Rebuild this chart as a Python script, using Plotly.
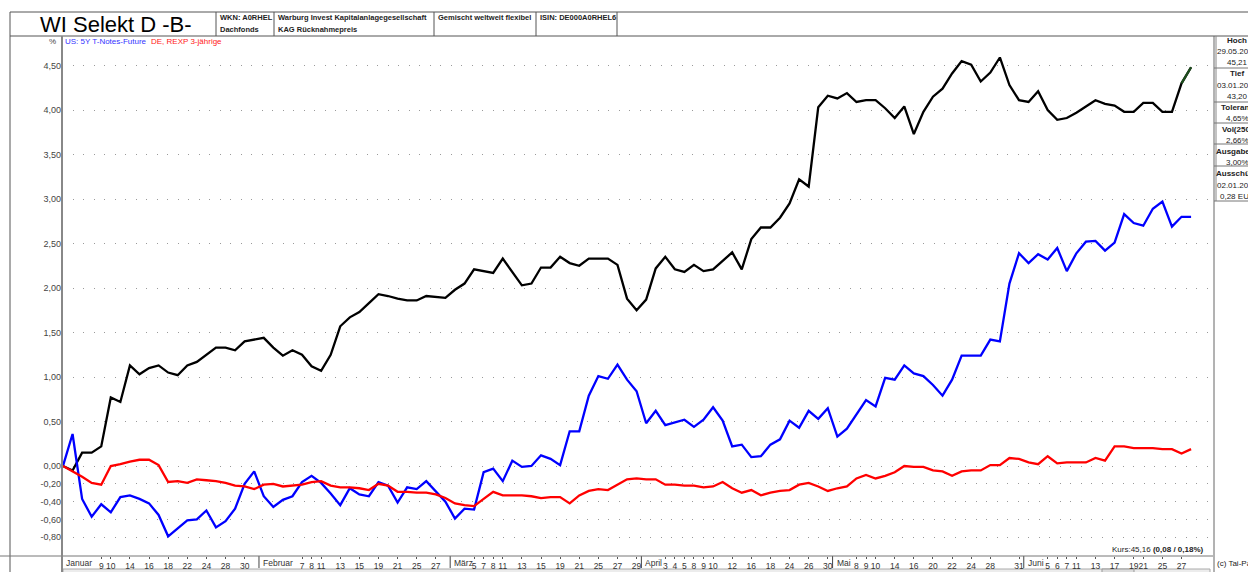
import plotly.graph_objects as go
import pandas as pd

# ------------------------------------------------------------------ data
excluded_days = ["2019-01-04", "2019-03-06", "2019-04-19", "2019-04-22", "2019-05-01",
                 "2019-05-03", "2019-05-06", "2019-06-10", "2019-06-20"]
trade_days = [d for d in pd.bdate_range("2019-01-02", "2019-06-28").strftime("%Y-%m-%d")
              if d not in excluded_days]

# WI Selekt D -B- (performance in %)
fund = [0.00, -0.05, 0.15, 0.15, 0.22, 0.77, 0.72, 1.13, 1.03, 1.10,
        1.13, 1.05, 1.02, 1.13, 1.17, 1.25, 1.33, 1.33, 1.30, 1.40,
        1.42, 1.44, 1.33, 1.24, 1.30, 1.25, 1.12, 1.07, 1.25, 1.57,
        1.67, 1.73, 1.83, 1.93, 1.91, 1.88, 1.86, 1.86, 1.91, 1.90,
        1.89, 1.98, 2.05, 2.21, 2.19, 2.17, 2.33, 2.18, 2.03, 2.05,
        2.23, 2.23, 2.35, 2.28, 2.25, 2.33, 2.33, 2.33, 2.26, 1.88,
        1.75, 1.87, 2.22, 2.35, 2.21, 2.18, 2.26, 2.19, 2.21, 2.30,
        2.40, 2.21, 2.55, 2.68, 2.68, 2.79, 2.95, 3.22, 3.14, 4.03,
        4.16, 4.13, 4.19, 4.09, 4.11, 4.11, 4.02, 3.91, 4.04, 3.73,
        3.98, 4.15, 4.24, 4.41, 4.55, 4.51, 4.32, 4.42, 4.59, 4.28,
        4.11, 4.09, 4.21, 4.00, 3.89, 3.91, 3.97, 4.04, 4.11, 4.07,
        4.05, 3.98, 3.98, 4.08, 4.08, 3.98, 3.98, 4.30, 4.48]

# US: 5Y T-Notes-Future
us5y = [0.00, 0.36, -0.37, -0.57, -0.43, -0.52, -0.35, -0.33, -0.37, -0.42,
        -0.55, -0.79, -0.70, -0.61, -0.60, -0.50, -0.69, -0.62, -0.48, -0.20,
        -0.06, -0.34, -0.46, -0.38, -0.34, -0.18, -0.11, -0.19, -0.31, -0.44,
        -0.25, -0.32, -0.34, -0.18, -0.22, -0.41, -0.24, -0.26, -0.17, -0.29,
        -0.40, -0.59, -0.48, -0.49, -0.07, -0.03, -0.17, 0.06, -0.01, 0.00,
        0.12, 0.08, 0.01, 0.39, 0.39, 0.79, 1.01, 0.98, 1.14, 0.97,
        0.84, 0.48, 0.62, 0.46, 0.49, 0.52, 0.44, 0.52, 0.66, 0.51,
        0.22, 0.24, 0.10, 0.11, 0.24, 0.30, 0.51, 0.43, 0.62, 0.53,
        0.65, 0.33, 0.42, 0.58, 0.74, 0.67, 0.99, 0.97, 1.13, 1.04,
        1.01, 0.91, 0.79, 0.97, 1.24, 1.24, 1.24, 1.42, 1.40, 2.05,
        2.39, 2.28, 2.38, 2.32, 2.45, 2.19, 2.39, 2.52, 2.53, 2.42,
        2.51, 2.83, 2.73, 2.70, 2.89, 2.97, 2.69, 2.80, 2.80]

# DE, REXP 3-jährige
rexp = [0.00, -0.06, -0.12, -0.19, -0.21, 0.00, 0.02, 0.05, 0.07, 0.07,
        0.01, -0.18, -0.17, -0.19, -0.15, -0.16, -0.17, -0.19, -0.22, -0.23,
        -0.26, -0.21, -0.20, -0.23, -0.22, -0.21, -0.18, -0.17, -0.22, -0.24,
        -0.24, -0.25, -0.27, -0.20, -0.22, -0.29, -0.29, -0.30, -0.30, -0.32,
        -0.36, -0.42, -0.44, -0.45, -0.37, -0.29, -0.33, -0.33, -0.33, -0.34,
        -0.36, -0.35, -0.35, -0.42, -0.33, -0.28, -0.26, -0.27, -0.21, -0.15,
        -0.14, -0.15, -0.15, -0.21, -0.21, -0.22, -0.22, -0.24, -0.23, -0.18,
        -0.25, -0.30, -0.27, -0.33, -0.30, -0.28, -0.27, -0.21, -0.19, -0.23,
        -0.28, -0.25, -0.23, -0.14, -0.10, -0.14, -0.11, -0.07, 0.00, -0.01,
        -0.01, -0.05, -0.06, -0.11, -0.06, -0.05, -0.05, 0.01, 0.01, 0.09,
        0.08, 0.04, 0.02, 0.11, 0.03, 0.04, 0.04, 0.04, 0.09, 0.06,
        0.22, 0.22, 0.20, 0.20, 0.20, 0.19, 0.19, 0.14, 0.19]

month_names = ["Januar", "Februar", "März", "April", "Mai", "Juni"]
label_days = [[9, 10, 14, 16, 18, 22, 24, 28, 30],
              [7, 8, 11, 13, 15, 19, 21, 25, 27],
              [5, 7, 8, 11, 13, 15, 19, 21, 25, 27, 29],
              [3, 4, 5, 8, 9, 10, 12, 16, 18, 24, 26, 30],
              [8, 9, 10, 14, 16, 20, 22, 24, 28, 31],
              [5, 6, 7, 11, 13, 17, 19, 21, 25, 27]]

y_tick_values = [-0.8, -0.6, -0.4, -0.2, 0.0, 0.5, 1.0, 1.5, 2.0, 2.5, 3.0, 3.5, 4.0, 4.5]

header_cells = [["WKN: A0RHEL", "Dachfonds"],
                ["Warburg Invest Kapitalanlagegesellschaft", "KAG Rücknahmepreis"],
                ["Gemischt weltweit flexibel", ""],
                ["ISIN: DE000A0RHEL6", ""]]

info_boxes = [["Hoch", "29.05.2019", "45,21"],
              ["Tief", "03.01.2019", "43,20"],
              ["Toleranz", "4,65%"],
              ["Vol(250)", "2,66%"],
              ["Ausgabeaufschlag", "3,00%"],
              ["Ausschüttung", "02.01.2019", "0,28 EUR"]]

# ------------------------------------------------------------------ layout helpers
W, H = 1248, 572
PL, PR, PT, PB = 62, 1213, 36, 556
FONT = "Liberation Sans, Arial, sans-serif"


def fx(px):
    return (px - PL) / (PR - PL)


def fy(py):
    return (PB - py) / (PB - PT)


shapes = []
annotations = []


def hline(x0, x1, y, color="#666", width=1):
    shapes.append(dict(type="line", xref="paper", yref="paper", x0=fx(x0), x1=fx(x1),
                       y0=fy(y), y1=fy(y), line=dict(color=color, width=width), layer="above"))


def vline(x, y0, y1, color="#666", width=1):
    shapes.append(dict(type="line", xref="paper", yref="paper", x0=fx(x), x1=fx(x),
                       y0=fy(y0), y1=fy(y1), line=dict(color=color, width=width), layer="above"))


def text(t, x, y, size=9, color="#222", xanchor="left", bold=False):
    if bold:
        t = "<b>" + t + "</b>"
    annotations.append(dict(text=t, xref="paper", yref="paper", x=fx(x), y=fy(y),
                            xanchor=xanchor, yanchor="middle", showarrow=False,
                            font=dict(family=FONT, size=size, color=color), borderpad=0))


x_idx = list(range(len(trade_days)))

fig = go.Figure()
fig.add_trace(go.Scatter(x=x_idx, y=fund, mode="lines", line=dict(color="#000000", width=2.3),
                         name="WI Selekt D -B-", text=trade_days, hoverinfo="text+y"))
fig.add_trace(go.Scatter(x=x_idx[-2:], y=fund[-2:], mode="lines",
                         line=dict(color="#1d4d1d", width=2.3), showlegend=False, hoverinfo="skip"))
fig.add_trace(go.Scatter(x=x_idx, y=us5y, mode="lines", line=dict(color="#0000ff", width=2.3),
                         name="US: 5Y T-Notes-Future", text=trade_days, hoverinfo="text+y"))
fig.add_trace(go.Scatter(x=x_idx, y=rexp, mode="lines", line=dict(color="#ff0000", width=2.3),
                         name="DE, REXP 3-jährige", text=trade_days, hoverinfo="text+y"))

# x tick labels (days) and month separators / names
tick_vals, tick_text = [], []
for m, days in enumerate(label_days):
    for d in days:
        ds = "2019-%02d-%02d" % (m + 1, d)
        if ds in trade_days:
            tick_vals.append(trade_days.index(ds))
            tick_text.append(str(d))
    first = next(i for i, ds in enumerate(trade_days) if int(ds[5:7]) == m + 1)
    sep = first - 0.5 if m > 0 else -0.1
    if m > 0:
        shapes.append(dict(type="line", xref="x", yref="paper", x0=sep, x1=sep,
                           y0=fy(556), y1=fy(568), line=dict(color="#444", width=1)))
    annotations.append(dict(text=month_names[m], xref="x", yref="paper", x=sep, y=fy(563),
                            xanchor="left", yanchor="middle", xshift=2, showarrow=False,
                            font=dict(family=FONT, size=8.5, color="#333")))

y_tick_text = [("%.2f" % v).replace(".", ",") for v in y_tick_values]

# ------------------------------------------------------------------ frame lines
hline(10, W + 5, 12, "#555")          # header top
hline(10, W + 5, 36, "#555")          # header bottom
vline(10, 12, H + 5, "#555")          # outer left border
for xd in [216, 274, 434, 536, 617]:
    vline(xd, 12, 36, "#555")
hline(0, PR, 556, "#777")             # x axis line
vline(PL, 36, H + 5, "#888", 2)       # y axis line
vline(1214, 36, H + 5, "#666")        # right panel border
vline(1216, 36, 201, "#888")
for yl in [68, 102, 123, 144, 166, 201]:
    hline(1214, W + 5, yl, "#777")
# scroll bar strip at the very bottom
shapes.append(dict(type="rect", xref="paper", yref="paper", x0=fx(PL + 1), x1=fx(1210),
                   y0=fy(569), y1=fy(H + 10), fillcolor="#ececec", line=dict(color="#aaa", width=1),
                   layer="below"))
shapes.append(dict(type="rect", xref="paper", yref="paper", x0=fx(1102), x1=fx(1134),
                   y0=fy(569), y1=fy(H + 10), fillcolor="#dcdcdc", line=dict(color="#999", width=1),
                   layer="below"))

# ------------------------------------------------------------------ texts
text("WI Selekt D -B-", 39, 24, size=22, color="#000")
cell_x = [219, 277, 437, 539]
for (l1, l2), xc in zip(header_cells, cell_x):
    text(l1, xc, 17.5, size=7.5, color="#222", bold=True)
    if l2:
        text(l2, xc, 29, size=7.5, color="#222", bold=True)

text("%", 57, 42, size=8, color="#444", xanchor="right")
text("US: 5Y T-Notes-Future", 64, 42, size=8, color="#3333ff")
text("DE, REXP 3-jährige", 150, 42, size=8, color="#ff2020")

row_y = 40.5
for box in info_boxes:
    for k, t in enumerate(box):
        if k == 0 and len(t) > 9:
            text(t, 1215, row_y, size=8, color="#222", bold=True)
        else:
            text(t, 1237, row_y, size=8, color="#222", xanchor="center", bold=(k == 0))
        row_y += 11.2
    row_y += -0.2

text("Kurs:45,16 <b>(0,08 / 0,18%)</b>", 1205, 549, size=8, color="#222", xanchor="right")
text("(c) Tai-Pan", 1216, 563, size=8, color="#222")
text("02.01.2019 ◄", 64, 576, size=8, color="#444")
text("► 28.06.2019", 1138, 576, size=8, color="#444")

# ------------------------------------------------------------------ axes / layout
fig.update_layout(
    width=W, height=H, autosize=False,
    margin=dict(l=PL, r=W - PR, t=PT, b=H - PB, pad=0, autoexpand=False),
    paper_bgcolor="white", plot_bgcolor="white",
    showlegend=False,
    font=dict(family=FONT, size=9, color="#333"),
    shapes=shapes, annotations=annotations,
    xaxis=dict(range=[-1 / 9.56, (PR - 63) / 9.56], tickmode="array", tickvals=tick_vals,
               ticktext=tick_text, tickangle=0, ticks="outside", ticklen=2, tickcolor="#555",
               tickfont=dict(family=FONT, size=8.5, color="#333"), automargin=False,
               showgrid=False, zeroline=False, showline=False, fixedrange=True),
    yaxis=dict(range=[(466 - 556) / 89, (466 - 36) / 89], tickmode="array",
               tickvals=y_tick_values, ticktext=y_tick_text, ticks="", automargin=False,
               tickfont=dict(family=FONT, size=9, color="#444"),
               showgrid=True, gridcolor="#9a9a9a", gridwidth=1, griddash="1px,9.5px",
               zeroline=False, showline=False, fixedrange=True),
)

fig.write_html("out.html", include_plotlyjs=True, config={"displayModeBar": False},
               post_script="document.body.style.margin='0';document.body.style.overflow='hidden';")
